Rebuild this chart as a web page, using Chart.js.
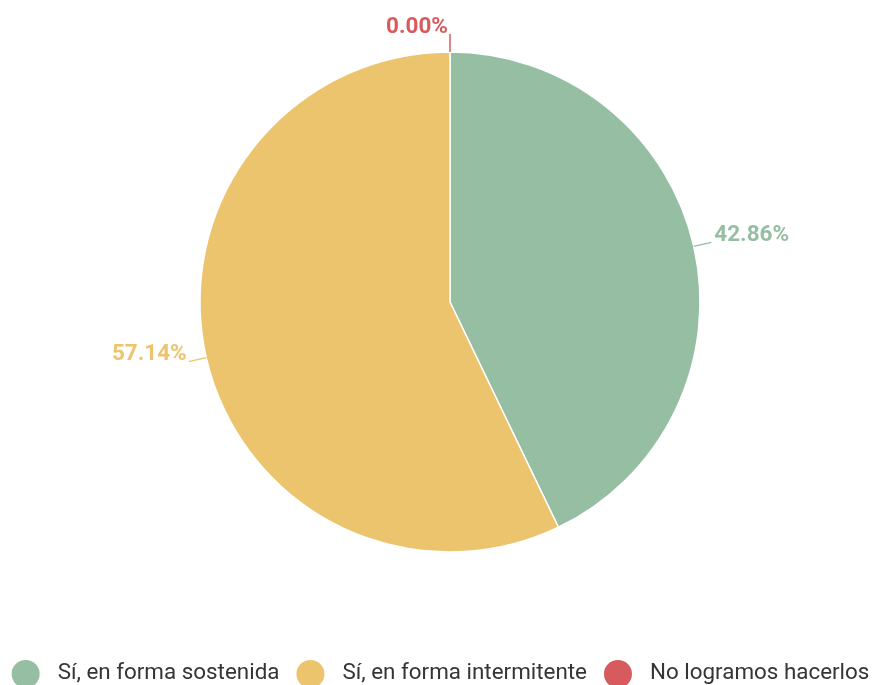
<!DOCTYPE html>
<html>
<head>
<meta charset="utf-8">
<script src="https://cdn.jsdelivr.net/npm/chart.js@4.4.1/dist/chart.umd.min.js"></script>
<style>
    html, body { margin: 0; padding: 0; background: #fff; overflow: hidden; }
    #wrap { width: 875px; height: 685px; position: relative; }
</style>
</head>
<body>
<div id="wrap"><canvas id="pieChart"></canvas></div>
<script>
const categories = ['Sí, en forma sostenida', 'Sí, en forma intermitente', 'No logramos hacerlos'];
const percentages = [42.86, 57.14, 0];
const sliceColors = ['#95BEA3', '#ECC46D', '#D75B5E'];

// labels outside the pie with a short radial leader line
const outsideLabels = {
    id: 'outsideLabels',
    afterDatasetsDraw(chart) {
        const ctx = chart.ctx;
        const meta = chart.getDatasetMeta(0);
        ctx.save();
        ctx.font = 'bold 22.5px Roboto';
        ctx.textBaseline = 'middle';
        meta.data.forEach((arc, i) => {
            const mid = (arc.startAngle + arc.endAngle) / 2;
            const cos = Math.cos(mid);
            const sin = Math.sin(mid);
            const x1 = arc.x + cos * arc.outerRadius;
            const y1 = arc.y + sin * arc.outerRadius;
            const x2 = arc.x + cos * (arc.outerRadius + 18);
            const y2 = arc.y + sin * (arc.outerRadius + 18);
            ctx.strokeStyle = sliceColors[i];
            ctx.lineWidth = 1.5;
            ctx.beginPath();
            ctx.moveTo(x1, y1);
            ctx.lineTo(x2, y2);
            ctx.stroke();

            const right = cos >= 0;
            ctx.textAlign = right ? 'left' : 'right';
            ctx.fillStyle = sliceColors[i];
            ctx.fillText(percentages[i].toFixed(2) + '%', x2 + (right ? 3 : -2), y2 - 7);
        });
        ctx.restore();
    }
};

// legend with round markers along the bottom edge
const bottomLegend = {
    id: 'bottomLegend',
    afterDraw(chart) {
        const ctx = chart.ctx;
        const r = 14;
        const textGap = 18;
        const itemGap = 17;
        const cy = 674;
        ctx.save();
        ctx.font = '22.4px Roboto';
        ctx.textBaseline = 'middle';
        ctx.textAlign = 'left';
        const widths = categories.map(c => ctx.measureText(c).width);
        const total = widths.reduce((s, w) => s + 2 * r + textGap + w, 0) + itemGap * (categories.length - 1);
        let x = (chart.width - total) / 2 + 3;
        categories.forEach((c, i) => {
            ctx.fillStyle = sliceColors[i];
            ctx.beginPath();
            ctx.arc(x + r, cy, r, 0, Math.PI * 2);
            ctx.fill();
            ctx.fillStyle = '#353535';
            ctx.fillText(c, x + 2 * r + textGap, cy - 1);
            x += 2 * r + textGap + widths[i] + itemGap;
        });
        ctx.restore();
    }
};

new Chart(document.getElementById('pieChart'), {
    type: 'pie',
    data: {
        labels: categories,
        datasets: [{
            data: percentages,
            backgroundColor: sliceColors,
            borderColor: '#ffffff',
            borderWidth: 1.5,
            radius: 250
        }]
    },
    options: {
        responsive: true,
        maintainAspectRatio: false,
        animation: false,
        layout: {
            padding: { top: 52, bottom: 133, left: 25, right: 0 }
        },
        plugins: {
            legend: { display: false },
            tooltip: { enabled: false }
        }
    },
    plugins: [outsideLabels, bottomLegend]
});
</script>
</body>
</html>
